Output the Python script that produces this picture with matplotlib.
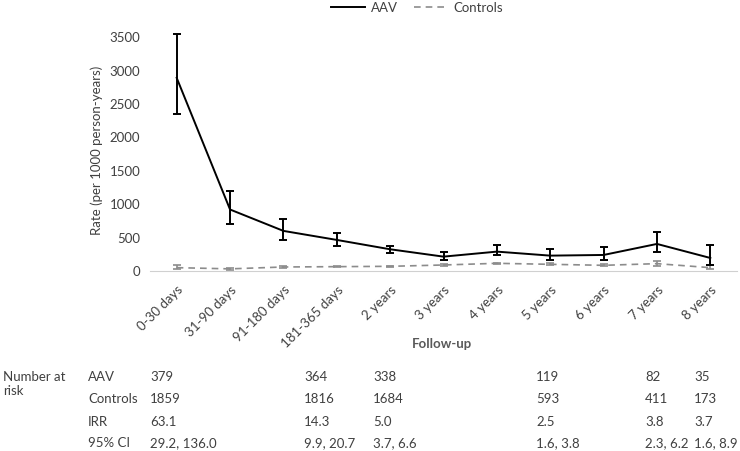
import matplotlib
matplotlib.use("Agg")
from matplotlib import pyplot as plt
from matplotlib.lines import Line2D

plt.rcParams['font.family'] = ['Lato', 'DejaVu Sans']

# follow-up categories
periods = ['0-30 days', '31-90 days', '91-180 days', '181-365 days', '2 years',
           '3 years', '4 years', '5 years', '6 years', '7 years', '8 years']

# AAV rate and 95% CI
aav = [2890, 920, 600, 465, 325, 215, 290, 230, 240, 405, 195]
aav_lo = [2355, 710, 465, 375, 265, 160, 235, 165, 160, 280, 95]
aav_hi = [3550, 1190, 780, 575, 380, 280, 385, 325, 355, 580, 385]

# controls rate and 95% CI
ctrl = [50, 32, 60, 65, 70, 90, 115, 100, 85, 110, 50]
ctrl_lo = [25, 15, 45, 55, 60, 80, 105, 85, 70, 80, 30]
ctrl_hi = [95, 50, 75, 80, 80, 100, 125, 115, 100, 150, 85]

# table under the chart
row_names = ['AAV', 'Controls', 'IRR', '95% CI']
aav_risk = ['379', '364', '338', '119', '82', '35']
ctrl_risk = ['1859', '1816', '1684', '593', '411', '173']
irr = ['63.1', '14.3', '5.0', '2.5', '3.8', '3.7']
ci = ['29.2, 136.0', '9.9, 20.7', '3.7, 6.6', '1.6, 3.8', '2.3, 6.2', '1.6, 8.9']
table_x = [150, 304, 373, 536, 645, 694]

W, H = 740, 451
FS = 9.5
TXT = '#404040'
fig = plt.figure(figsize=(7.4, 4.51), dpi=100)
ax = fig.add_axes([150 / W, 1 - 271 / H, 587 / W, 240.6 / H])

x = list(range(len(periods)))
aav_err = [[v - l for v, l in zip(aav, aav_lo)], [h - v for v, h in zip(aav, aav_hi)]]
ctrl_err = [[v - l for v, l in zip(ctrl, ctrl_lo)], [h - v for v, h in zip(ctrl, ctrl_hi)]]

ax.errorbar(x, ctrl, yerr=ctrl_err, color='#8c8c8c', lw=1.2, ls=(0, (4, 3)),
            elinewidth=1.2, capsize=3, capthick=1.2)
ax.errorbar(x, aav, yerr=aav_err, color='black', lw=1.4,
            elinewidth=1.4, capsize=3, capthick=1.4)

ax.set_xlim(-0.5, len(periods) - 0.5)
ax.set_ylim(0, 3600)
ax.set_yticks(range(0, 3501, 500))
ax.set_xticks(x)
ax.set_xticklabels(periods, rotation=45, ha='right', rotation_mode='anchor')
ax.tick_params(axis='x', length=0, pad=9, labelsize=FS, colors=TXT)
ax.tick_params(axis='y', length=0, pad=7, labelsize=FS, colors=TXT)
for s in ['top', 'right', 'left']:
    ax.spines[s].set_visible(False)
ax.spines['bottom'].set_color('#d0d0d0')
ax.set_ylabel('Rate (per 1000 person-years)', fontsize=FS, color=TXT, labelpad=5)

handles = [Line2D([], [], color='black', lw=1.4),
           Line2D([], [], color='#8c8c8c', lw=1.2, ls=(0, (4, 3)))]
fig.legend(handles, ['AAV', 'Controls'], loc='center', ncol=2, frameon=False,
           bbox_to_anchor=(417 / W, 1 - 8 / H), fontsize=FS, handlelength=2.6,
           handletextpad=0.4, columnspacing=1.2, labelcolor=TXT)

fig.text(442 / W, 1 - 344 / H, 'Follow-up', ha='center', va='center',
         fontsize=FS, weight='bold', color='#595959')

# table
rows_y = [377, 399, 422, 443]
fig.text(3 / W, 1 - 377 / H, 'Number at', va='center', fontsize=FS, color=TXT)
fig.text(3 / W, 1 - 391 / H, 'risk', va='center', fontsize=FS, color=TXT)
for name, yy in zip(row_names, rows_y):
    fig.text(88 / W, 1 - yy / H, name, va='center', fontsize=FS, color=TXT)
for vals, yy in zip([aav_risk, ctrl_risk, irr, ci], rows_y):
    for v, xx in zip(vals, table_x):
        fig.text(xx / W, 1 - yy / H, v, va='center', fontsize=FS, color=TXT)

fig.savefig('out.png', dpi=100)
